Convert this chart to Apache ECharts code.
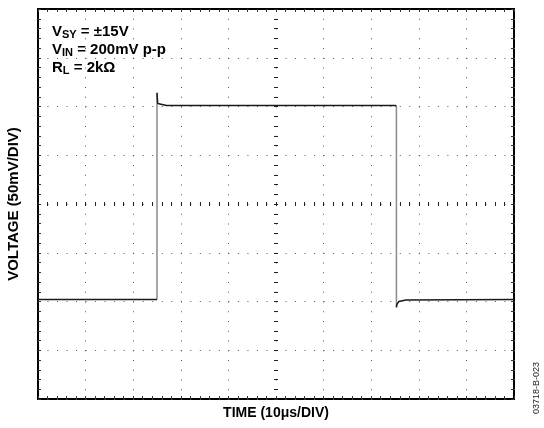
<!DOCTYPE html>
<html>
<head>
<meta charset="utf-8">
<title>Small signal transient response</title>
<script src="https://cdn.jsdelivr.net/npm/echarts@6/dist/echarts.min.js"></script>
<style>
  html, body { margin: 0; padding: 0; background: #fff; }
  #chart { width: 544px; height: 428px; }
</style>
</head>
<body>
<div id="chart"></div>
<script>
// scope trace, time in us, voltage in mV
const traceTime = [0, 25, 25, 25.15, 25.5, 27, 75.1, 75.3, 75.3, 75.4, 75.8, 77.3, 100]
const traceMv = [-98, -98, 114, 103, 102, 101, 101, 100, -106, -103, -100, -98.5, -98]

// axis ranges (10 div x 10us, 8 div x 50mV)
const timeRange = [0, 100]
const voltRange = [-200, 200]
const timeStep = 10
const voltStep = 50

const fontFamily = '"Liberation Sans", Arial, sans-serif'

// split the trace into flat parts (black) and fast edges (grey)
const flatData = []
const edgeData = []
for (let i = 0; i < traceTime.length; i++) {
  if (i > 0 && traceTime[i] === traceTime[i - 1]) {
    flatData.push([traceTime[i], null])
    edgeData.push([traceTime[i - 1], traceMv[i - 1]], [traceTime[i], traceMv[i]], [traceTime[i], null])
  }
  flatData.push([traceTime[i], traceMv[i]])
}

// same rectangle for all three grids, names must not shrink it
const plotRect = { left: 38, top: 9, right: 30, bottom: 29, containLabel: false, outerBoundsMode: 'none' }
const dotColor = '#555'

// frame axes: small ticks on the inside of the border
function frameX(pos, extra) {
  return Object.assign({
    type: 'value',
    gridIndex: 0,
    position: pos,
    min: timeRange[0],
    max: timeRange[1],
    interval: timeStep,
    axisLine: { show: false, onZero: false },
    axisTick: { show: true, inside: true, length: 3, lineStyle: { color: '#333' } },
    minorTick: { show: true, splitNumber: 5, length: 3, lineStyle: { color: '#333' } },
    axisLabel: { show: false },
    splitLine: { show: false }
  }, extra)
}
function frameY(pos, extra) {
  return Object.assign({
    type: 'value',
    gridIndex: 0,
    position: pos,
    min: voltRange[0],
    max: voltRange[1],
    interval: voltStep,
    axisLine: { show: false, onZero: false },
    axisTick: { show: true, inside: true, length: 3, lineStyle: { color: '#333' } },
    minorTick: { show: true, splitNumber: 5, length: 3, lineStyle: { color: '#333' } },
    axisLabel: { show: false },
    splitLine: { show: false }
  }, extra)
}
// centre crosshair axes, one grid for each side of the ticks
function centreX(grid, inside) {
  return {
    type: 'value',
    gridIndex: grid,
    min: -50,
    max: 50,
    interval: timeStep,
    axisLine: { show: false, onZero: true },
    axisTick: { show: true, inside: inside, length: 2, lineStyle: { color: '#222' } },
    minorTick: { show: true, splitNumber: 5, length: 2, lineStyle: { color: '#222' } },
    axisLabel: { show: false },
    splitLine: { show: false }
  }
}
function centreY(grid, inside) {
  return {
    type: 'value',
    gridIndex: grid,
    min: voltRange[0],
    max: voltRange[1],
    interval: voltStep,
    axisLine: { show: false, onZero: true },
    axisTick: { show: true, inside: inside, length: 2, lineStyle: { color: '#222' } },
    minorTick: { show: true, splitNumber: 5, length: 2, lineStyle: { color: '#222' } },
    axisLabel: { show: false },
    splitLine: { show: false }
  }
}

const chart = echarts.init(document.getElementById('chart'), null, { renderer: 'canvas' })

chart.setOption({
  animation: false,
  backgroundColor: '#fff',
  grid: [
    Object.assign({ show: true, borderColor: '#000', borderWidth: 2, backgroundColor: 'transparent' }, plotRect),
    Object.assign({ show: false }, plotRect),
    Object.assign({ show: false }, plotRect)
  ],
  xAxis: [
    frameX('bottom', {
      name: 'TIME (10μs/DIV)',
      nameLocation: 'middle',
      nameGap: 7,
      nameTextStyle: { fontFamily: fontFamily, fontWeight: 'bold', fontSize: 14, color: '#000', verticalAlign: 'top' },
      splitLine: { show: true, lineStyle: { color: dotColor, width: 1, type: [1, 8.75] } }
    }),
    frameX('top'),
    centreX(1, true),
    centreX(2, false)
  ],
  yAxis: [
    frameY('left', {
      name: 'VOLTAGE (50mV/DIV)',
      nameLocation: 'middle',
      nameGap: 17,
      nameTextStyle: { fontFamily: fontFamily, fontWeight: 'bold', fontSize: 15, color: '#000' },
      splitLine: { show: true, lineStyle: { color: dotColor, width: 1, type: [1, 8.52] } }
    }),
    frameY('right'),
    centreY(1, true),
    centreY(2, false)
  ],
  graphic: [
    {
      type: 'text',
      left: 52,
      top: 24,
      style: {
        text: '{m|V}{s|SY}{m| = ±15V}\n{m|V}{s|IN}{m| = 200mV p-p}\n{m|R}{s|L}{m| = 2kΩ}',
        rich: {
          m: { fontFamily: fontFamily, fontWeight: 'bold', fontSize: 15, lineHeight: 18, fill: '#000' },
          s: { fontFamily: fontFamily, fontWeight: 'bold', fontSize: 11, lineHeight: 10, verticalAlign: 'bottom', fill: '#000' }
        }
      }
    },
    {
      type: 'text',
      x: 537,
      y: 388,
      rotation: Math.PI / 2,
      style: {
        text: '03718-B-023',
        fontFamily: fontFamily,
        fontSize: 9,
        fill: '#222',
        align: 'center',
        verticalAlign: 'middle'
      }
    }
  ],
  series: [
    {
      name: 'edges',
      type: 'line',
      xAxisIndex: 0,
      yAxisIndex: 0,
      data: edgeData,
      symbol: 'none',
      connectNulls: false,
      lineStyle: { color: '#8a8a8a', width: 1.5 }
    },
    {
      name: 'trace',
      type: 'line',
      xAxisIndex: 0,
      yAxisIndex: 0,
      data: flatData,
      symbol: 'none',
      connectNulls: false,
      lineStyle: { color: '#1a1a1a', width: 1.5 }
    }
  ]
})
</script>
</body>
</html>
